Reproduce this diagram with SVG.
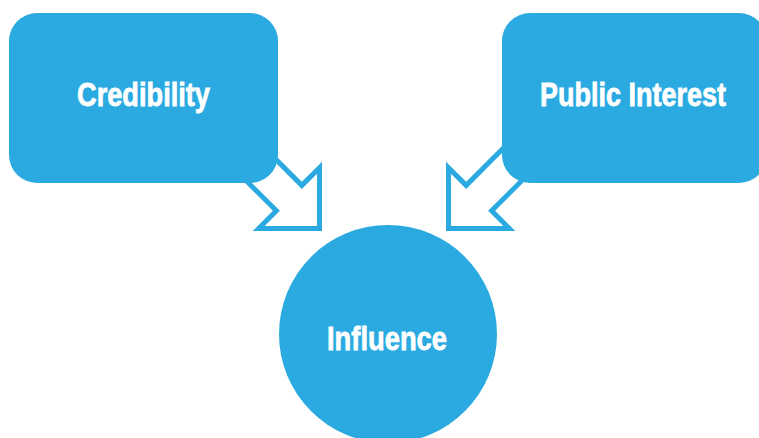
<svg xmlns="http://www.w3.org/2000/svg" width="759" height="438" viewBox="0 0 759 438">
  <style>
    .box { fill: #2AAAE0; }
    .arrow { fill: #FFFFFF; stroke: #2AAAE0; stroke-width: 5; stroke-linejoin: miter; }
    .label { fill: #FFFFFF; stroke: #FFFFFF; stroke-width: 0.8; font-family: "Liberation Sans", Arial, sans-serif; font-weight: bold; font-size: 34px; text-anchor: middle; }
  </style>
  <defs>
    <!-- hollow block arrow, tip at origin, pointing along +x -->
    <polygon id="blockArrow" points="0,0 -43,43 -43,18 -140,18 -140,-18 -43,-18 -43,-43"/>
  </defs>

  <rect width="759" height="438" fill="#FFFFFF"/>

  <g id="connectors">
    <use href="#blockArrow" class="arrow" transform="translate(319.5,228.5) rotate(45)"/>
    <use href="#blockArrow" class="arrow" transform="translate(448.5,228.5) rotate(135)"/>
  </g>

  <g id="credibility">
    <rect class="box" x="9" y="13" width="269" height="170" rx="28" ry="28"/>
    <text class="label" x="143.5" y="106" textLength="133" lengthAdjust="spacingAndGlyphs">Credibility</text>
  </g>

  <g id="public-interest">
    <rect class="box" x="502" y="13" width="265" height="170" rx="28" ry="28"/>
    <text class="label" x="633" y="106" textLength="186" lengthAdjust="spacingAndGlyphs">Public Interest</text>
  </g>

  <g id="influence">
    <circle class="box" cx="388" cy="334" r="109"/>
    <text class="label" x="387" y="350" textLength="120" lengthAdjust="spacingAndGlyphs">Influence</text>
  </g>
</svg>
